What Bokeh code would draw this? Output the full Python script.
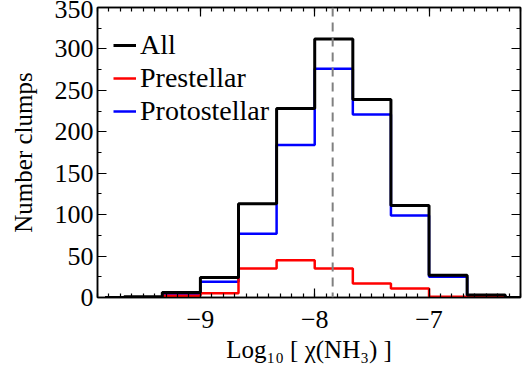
from bokeh.plotting import figure
from bokeh.models import (Span, Legend, LegendItem, LinearAxis, SingleIntervalTicker, Range1d)
from bokeh.embed import file_html
from bokeh.resources import INLINE

# Histogram bin centres (log10 chi(NH3)), bin width 1/3 dex
bin_centers = [-9.8333, -9.5, -9.1667, -8.8333, -8.5, -8.1667,
               -7.8333, -7.5, -7.1667, -6.8333, -6.5, -6.1667]
counts_all = [0, 1, 6, 24, 113, 228, 312, 239, 111, 27, 3, 0]
counts_prestellar = [0, 0, 2, 5, 35, 45, 35, 17, 11, 1, 1, 0]
counts_protostellar = [0, 0, 3, 19, 77, 184, 276, 221, 99, 25, 2, 0]
median_value = -7.843

x_ticks = [-9, -8, -7]
x_tick_labels = {-9: "\u22129", -8: "\u22128", -7: "\u22127"}
y_ticks = [0, 50, 100, 150, 200, 250, 300, 350]

FONT = "Liberation Serif"

p = figure(width=525, height=367, output_backend="svg", toolbar_location=None,
           x_range=Range1d(-9.9, -6.2), y_range=Range1d(0, 350),
           min_border_left=97, min_border_right=5, min_border_top=7, min_border_bottom=70,
           background_fill_color="white", border_fill_color="white")
p.xgrid.visible = False
p.ygrid.visible = False
p.outline_line_color = "black"
p.outline_line_width = 1.5

def style_axis(ax, show_labels=True):
    ax.axis_line_color = "black"
    ax.axis_line_width = 1.5
    ax.major_tick_in = 9
    ax.major_tick_out = 0
    ax.minor_tick_in = 4
    ax.minor_tick_out = 0
    ax.major_tick_line_color = "black"
    ax.minor_tick_line_color = "black"
    ax.major_tick_line_width = 1.2
    ax.minor_tick_line_width = 1.2
    ax.major_label_text_font = FONT
    ax.major_label_text_color = "black"
    if show_labels:
        ax.major_label_text_font_size = "26px"
    else:
        ax.major_label_text_font_size = "0px"
        ax.major_label_standoff = 0

xt = SingleIntervalTicker(interval=1, num_minor_ticks=10)
yt = SingleIntervalTicker(interval=50, num_minor_ticks=2)

p.xaxis.ticker = xt
p.yaxis.ticker = yt
style_axis(p.xaxis[0])
style_axis(p.yaxis[0])
p.xaxis.major_label_overrides = x_tick_labels
p.xaxis.major_label_standoff = 13
p.yaxis.major_label_standoff = 4
p.xaxis.axis_label = "Log\u2081\u2080 [ \u03c7(NH\u2083) ]"
p.yaxis.axis_label = "Number clumps"
for ax in (p.xaxis[0], p.yaxis[0]):
    ax.axis_label_text_font = FONT
    ax.axis_label_text_font_size = "25px"
    ax.axis_label_text_font_style = "normal"
    ax.axis_label_text_color = "black"
p.xaxis.axis_label_standoff = 5
p.yaxis.axis_label_standoff = 15

top_ax = LinearAxis(ticker=SingleIntervalTicker(interval=1, num_minor_ticks=10))
style_axis(top_ax, False)
p.add_layout(top_ax, "above")
right_ax = LinearAxis(ticker=SingleIntervalTicker(interval=50, num_minor_ticks=2))
style_axis(right_ax, False)
p.add_layout(right_ax, "right")

r_pro = p.step(bin_centers, counts_protostellar, mode="center", line_color="#0000ff", line_width=2.5)
r_pre = p.step(bin_centers, counts_prestellar, mode="center", line_color="#ff0000", line_width=2.5)
r_all = p.step(bin_centers, counts_all, mode="center", line_color="black", line_width=3)

p.add_layout(Span(location=median_value, dimension="height", line_color="#808080",
                  line_width=2, line_dash="9 6"))

legend = Legend(items=[LegendItem(label="All", renderers=[r_all]),
                       LegendItem(label="Prestellar", renderers=[r_pre]),
                       LegendItem(label="Protostellar", renderers=[r_pro])],
                location=(16, 170), orientation="vertical")
legend.label_text_font = FONT
legend.label_text_font_size = "28px"
legend.label_text_color = "black"
legend.glyph_width = 23
legend.glyph_height = 28
legend.label_height = 28
legend.label_standoff = 4
legend.spacing = 1
legend.padding = 0
legend.margin = 0
legend.border_line_alpha = 0
legend.background_fill_alpha = 0
p.add_layout(legend, "center")

open("out.html", "w").write(file_html(p, INLINE))
